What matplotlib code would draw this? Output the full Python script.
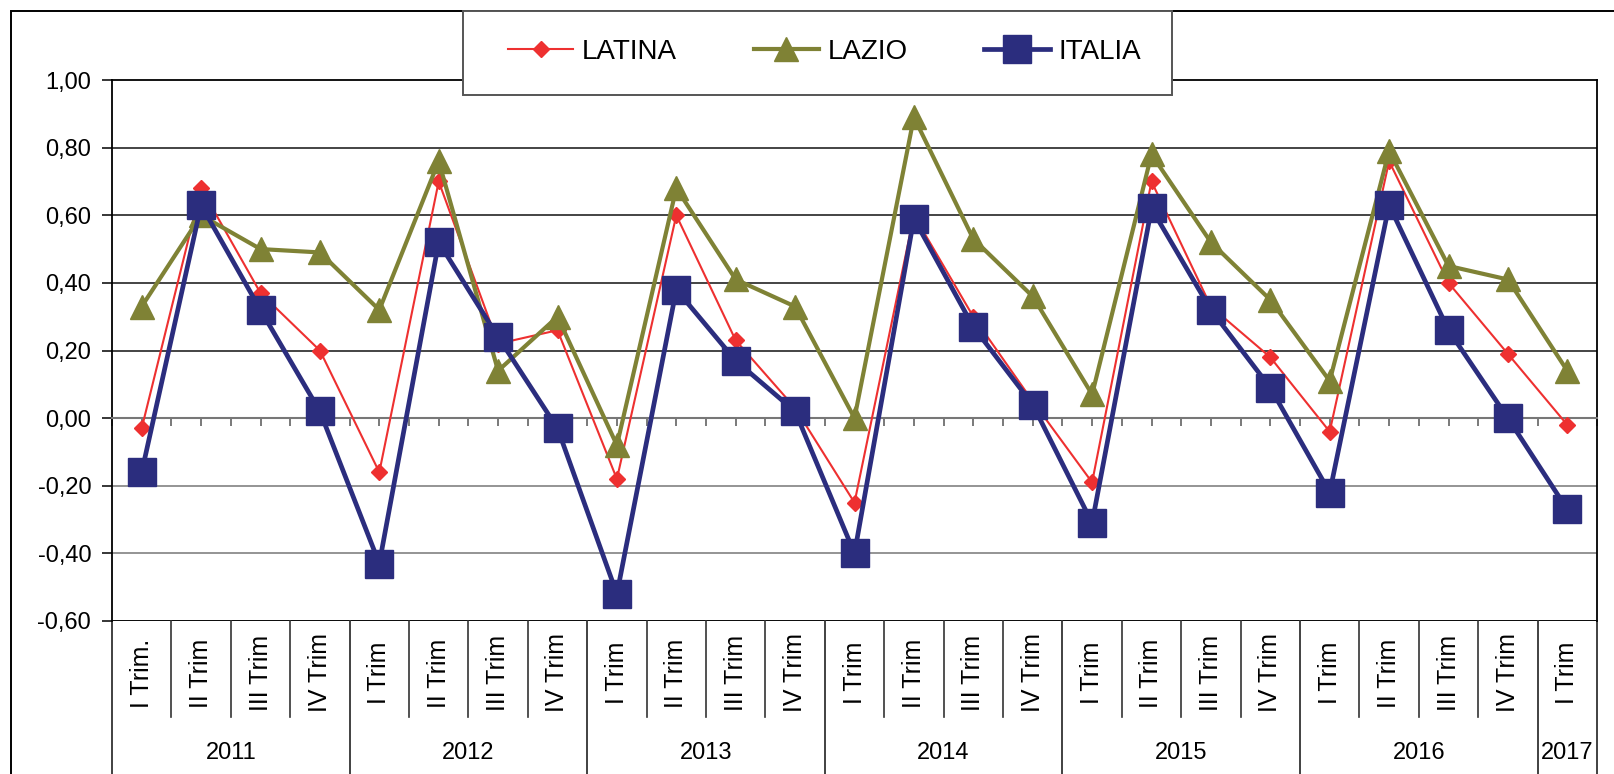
import numpy as np
import matplotlib
matplotlib.use("Agg")
import matplotlib.pyplot as plt
from matplotlib.patches import Rectangle
import matplotlib.transforms as mtransforms

plt.rcParams['font.family'] = ['Liberation Sans', 'DejaVu Sans']

# ---------------- data ----------------
quarters = ["I Trim.", "II Trim", "III Trim", "IV Trim",
            "I Trim", "II Trim", "III Trim", "IV Trim",
            "I Trim", "II Trim", "III Trim", "IV Trim",
            "I Trim", "II Trim", "III Trim", "IV Trim",
            "I Trim", "II Trim", "III Trim", "IV Trim",
            "I Trim", "II Trim", "III Trim", "IV Trim",
            "I Trim"]
years = ["2011", "2012", "2013", "2014", "2015", "2016", "2017"]
year_counts = [4, 4, 4, 4, 4, 4, 1]

latina = [-0.03, 0.68, 0.37, 0.20,
          -0.16, 0.70, 0.22, 0.26,
          -0.18, 0.60, 0.23, 0.03,
          -0.25, 0.60, 0.30, 0.05,
          -0.19, 0.70, 0.33, 0.18,
          -0.04, 0.76, 0.40, 0.19,
          -0.02]
lazio = [0.33, 0.60, 0.50, 0.49,
         0.32, 0.76, 0.14, 0.30,
         -0.08, 0.68, 0.41, 0.33,
         0.00, 0.89, 0.53, 0.36,
         0.07, 0.78, 0.52, 0.35,
         0.11, 0.79, 0.45, 0.41,
         0.14]
italia = [-0.16, 0.63, 0.32, 0.02,
          -0.43, 0.52, 0.24, -0.03,
          -0.52, 0.38, 0.17, 0.02,
          -0.40, 0.59, 0.27, 0.04,
          -0.31, 0.62, 0.32, 0.09,
          -0.22, 0.63, 0.26, 0.00,
          -0.27]
yticks = [-0.60, -0.40, -0.20, 0.00, 0.20, 0.40, 0.60, 0.80, 1.00]

# ---------------- figure ----------------
W, H = 1614, 774
fig = plt.figure(figsize=(W / 100, H / 100), dpi=100)
fig.patch.set_facecolor('white')

def fx(px):
    return px / W

def fy(py):
    return 1 - py / H

ax_l, ax_r, ax_t, ax_b = 112, 1597, 80, 621
ax = fig.add_axes([fx(ax_l), fy(ax_b), fx(ax_r - ax_l), (ax_b - ax_t) / H])

x = np.arange(len(quarters))
FS = 17

red = '#EE3030'
olive = '#7F8235'
navy = '#2B2D7E'

ax.set_xlim(-0.5, len(quarters) - 0.5)
ax.set_ylim(min(yticks), max(yticks))

# gridlines
for v in yticks:
    if v == 0 or v == max(yticks):
        continue
    col = '#111111' if v > 0 else '#777777'
    ax.axhline(v, color=col, lw=1.1, zorder=1)

l1, = ax.plot(x, latina, color=red, lw=1.5, marker='D', ms=8,
              mfc=red, mec=red, zorder=3)
l2, = ax.plot(x, lazio, color=olive, lw=3.0, marker='^', ms=17,
              mfc=olive, mec=olive, zorder=4)
l3, = ax.plot(x, italia, color=navy, lw=3.4, marker='s', ms=20,
              mfc=navy, mec=navy, zorder=5)

# spines
for s in ['left', 'right', 'top']:
    ax.spines[s].set_color('black')
    ax.spines[s].set_linewidth(1.3)
ax.spines['bottom'].set_position(('data', 0))
ax.spines['bottom'].set_color('#777777')
ax.spines['bottom'].set_linewidth(1.5)
ax.axhline(min(yticks), color='black', lw=1.3, zorder=2)

ax.set_yticks(yticks)
ax.set_yticklabels([f"{v:.2f}".replace('.', ',') for v in yticks], fontsize=FS)
ax.tick_params(axis='y', direction='out', length=7, width=1.1, pad=8, colors='black')
ax.set_xticks(np.arange(-0.5, len(quarters), 0.5))
ax.set_xticklabels([])
ax.tick_params(axis='x', direction='out', length=6, width=1.1, color='#555555')

# category table below plot
trans = mtransforms.blended_transform_factory(ax.transData, ax.transAxes)
ah = ax_b - ax_t
y_q_end = -(717 - ax_b) / ah
y_bottom = -0.4
y_qlab = -(673 - ax_b) / ah
y_ylab = -(753 - ax_b) / ah

year_bounds = np.cumsum([0] + year_counts) - 0.5
for b in np.arange(-0.5, len(quarters), 1.0):
    if b in year_bounds:
        ax.plot([b, b], [0, y_bottom], transform=trans, color='#333333',
                lw=1.3, clip_on=False)
    else:
        ax.plot([b, b], [0, y_q_end], transform=trans, color='#333333',
                lw=1.2, clip_on=False)

for i, q in enumerate(quarters):
    ax.text(x[i], y_qlab, q, transform=trans, rotation=90, ha='center',
            va='center', fontsize=18, rotation_mode='anchor')

for k, yr in enumerate(years):
    cx = (year_bounds[k] + year_bounds[k + 1]) / 2
    ax.text(cx, y_ylab, yr, transform=trans, ha='center', va='center',
            fontsize=FS)

# outer chart frame
fig.patches.append(Rectangle((fx(11), -0.5), 2, fy(11) + 0.5,
                             transform=fig.transFigure, fill=False,
                             edgecolor='black', lw=1.4, zorder=1))

# legend box
fig.patches.append(Rectangle((fx(463), fy(95)), fx(1172 - 463), (95 - 11) / H,
                             transform=fig.transFigure, facecolor='white',
                             edgecolor='#555555', lw=1.4, zorder=2))
leg = fig.legend([l1, l2, l3], ["LATINA", "LAZIO", "ITALIA"],
                 loc='center left', bbox_to_anchor=(fx(508), fy(52)),
                 ncol=3, frameon=False, fontsize=20, borderpad=0,
                 borderaxespad=0, handlelength=2.35, handletextpad=0.32,
                 columnspacing=2.75)
leg.set_zorder(6)

fig.savefig('out.png', dpi=100, facecolor='white')
